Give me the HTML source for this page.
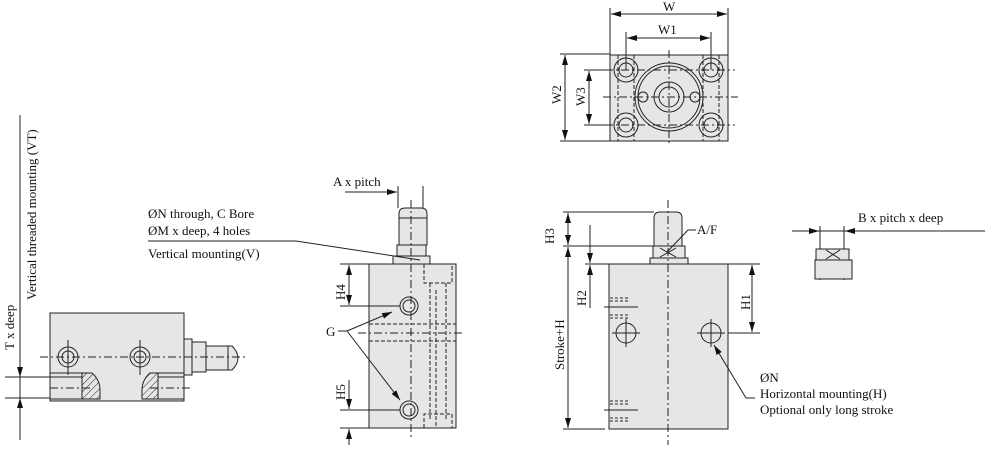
<!DOCTYPE html>
<html><head><meta charset="utf-8"><style>
html,body{margin:0;padding:0;background:#fff}
svg{display:block}
text{font-family:"Liberation Serif",serif;font-size:13px;fill:#111}
</style></head><body>
<svg width="990" height="452" viewBox="0 0 990 452" xmlns="http://www.w3.org/2000/svg">
<defs>
<marker id="a" viewBox="0 0 10 6" refX="10" refY="3" markerWidth="10" markerHeight="6" orient="auto-start-reverse" markerUnits="userSpaceOnUse"><path d="M0,0L10,3L0,6z" fill="#111"/></marker>
<pattern id="h" width="5" height="5" patternUnits="userSpaceOnUse" patternTransform="rotate(45)"><line x1="0" y1="0" x2="0" y2="5" stroke="#222" stroke-width="1"/></pattern>
</defs>
<g stroke="#222" stroke-width="1" fill="none">
<!-- TOP VIEW -->
<rect x="610" y="55" width="118" height="86" fill="#e6e6e6"/>
<line x1="610" y1="8" x2="610" y2="55"/><line x1="728" y1="8" x2="728" y2="55"/>
<line x1="611" y1="14" x2="727" y2="14" marker-start="url(#a)" marker-end="url(#a)"/>
<line x1="626" y1="32" x2="626" y2="70"/><line x1="711" y1="32" x2="711" y2="70"/>
<line x1="627" y1="38" x2="710" y2="38" marker-start="url(#a)" marker-end="url(#a)"/>
<line x1="560" y1="54" x2="610" y2="54"/><line x1="560" y1="141" x2="610" y2="141"/>
<line x1="565" y1="55" x2="565" y2="140" marker-start="url(#a)" marker-end="url(#a)"/>
<line x1="584" y1="70" x2="610" y2="70"/><line x1="584" y1="125" x2="610" y2="125"/>
<line x1="589" y1="71" x2="589" y2="124" marker-start="url(#a)" marker-end="url(#a)"/>
<g>
<circle cx="626" cy="70" r="12"/><circle cx="626" cy="70" r="7"/>
<circle cx="711" cy="70" r="12"/><circle cx="711" cy="70" r="7"/>
<circle cx="626" cy="125" r="12"/><circle cx="626" cy="125" r="7"/>
<circle cx="711" cy="125" r="12"/><circle cx="711" cy="125" r="7"/>
<circle cx="669" cy="97" r="34"/><circle cx="669" cy="97" r="31"/>
<circle cx="669" cy="97" r="15"/><circle cx="669" cy="97" r="10"/>
<circle cx="643" cy="97" r="5"/><circle cx="695" cy="97" r="5"/>
</g>
<g stroke-dasharray="8,3,2,3">
<line x1="603" y1="97" x2="738" y2="97"/><line x1="669" y1="50" x2="669" y2="145"/>
<line x1="605" y1="70" x2="735" y2="70"/><line x1="605" y1="125" x2="735" y2="125"/>
</g>
<g stroke-dasharray="4,2">
<line x1="618" y1="55" x2="618" y2="141"/><line x1="634" y1="55" x2="634" y2="141"/>
<line x1="703" y1="55" x2="703" y2="141"/><line x1="719" y1="55" x2="719" y2="141"/>
</g>
<!-- LEFT VIEW -->
<rect x="50" y="313" width="134" height="88" fill="#e6e6e6"/>
<rect x="184" y="339" width="8" height="36" fill="#e6e6e6"/>
<rect x="192" y="342" width="14" height="30" fill="#e6e6e6"/>
<path d="M206,346H232Q238,352 238,358Q238,364 232,370H206Z" fill="#e6e6e6"/>
<line x1="228" y1="346" x2="228" y2="370"/>
<circle cx="68" cy="357" r="10"/><circle cx="68" cy="357" r="6"/>
<circle cx="140" cy="357" r="10"/><circle cx="140" cy="357" r="6"/>
<line x1="40" y1="357" x2="245" y2="357" stroke-dasharray="8,3,2,3"/>
<line x1="68" y1="340" x2="68" y2="375"/><line x1="140" y1="340" x2="140" y2="375"/>
<path d="M82,373H92Q100,380 100,390V399H82Z" fill="url(#h)"/>
<path d="M158,373H150Q142,380 142,390V399H158Z" fill="url(#h)"/>
<rect x="50" y="377" width="32" height="22" fill="#e6e6e6"/>
<rect x="158" y="377" width="26" height="22" fill="#e6e6e6"/>
<line x1="50" y1="373" x2="92" y2="373"/><line x1="150" y1="373" x2="184" y2="373"/>
<line x1="50" y1="388" x2="90" y2="388" stroke-dasharray="8,3,2,3"/>
<line x1="150" y1="388" x2="192" y2="388" stroke-dasharray="8,3,2,3"/>
<line x1="20" y1="115" x2="20" y2="440"/>
<line x1="5" y1="377" x2="50" y2="377"/><line x1="5" y1="398" x2="50" y2="398"/>
<line x1="20" y1="362" x2="20" y2="377" marker-end="url(#a)"/>
<line x1="20" y1="413" x2="20" y2="398" marker-end="url(#a)"/>
<!-- MIDDLE VIEW -->
<rect x="369" y="264" width="87" height="164" fill="#e6e6e6"/>
<rect x="393" y="256" width="37" height="8" fill="#e6e6e6"/>
<rect x="397" y="245" width="29" height="11" fill="#e6e6e6"/>
<path d="M399,245V214Q399,208 405,208H421Q427,208 427,214V245Z" fill="#e6e6e6"/>
<line x1="399" y1="218" x2="427" y2="218"/>
<line x1="398" y1="186" x2="398" y2="208"/><line x1="423" y1="186" x2="423" y2="208"/>
<line x1="345" y1="192" x2="397" y2="192" marker-end="url(#a)"/>
<circle cx="409" cy="306" r="9"/><circle cx="409" cy="306" r="6"/>
<circle cx="409" cy="410" r="9"/><circle cx="409" cy="410" r="6"/>
<line x1="411" y1="200" x2="411" y2="440" stroke-dasharray="8,3,2,3"/>
<line x1="358" y1="333" x2="465" y2="333" stroke-dasharray="8,3,2,3"/>
<g stroke-dasharray="4,2">
<path d="M424,264V283H452V264"/>
<line x1="430" y1="283" x2="430" y2="420"/><line x1="446" y1="283" x2="446" y2="420"/>
<line x1="436" y1="290" x2="436" y2="428"/>
<line x1="369" y1="324" x2="456" y2="324"/><line x1="369" y1="341" x2="456" y2="341"/>
<path d="M424,428V414H452V428"/>
</g>
<line x1="340" y1="264" x2="369" y2="264"/><line x1="340" y1="306" x2="400" y2="306"/>
<line x1="349" y1="265" x2="349" y2="305" marker-start="url(#a)" marker-end="url(#a)"/>
<line x1="340" y1="410" x2="400" y2="410"/><line x1="340" y1="428" x2="369" y2="428"/>
<line x1="349" y1="380" x2="349" y2="409" marker-end="url(#a)"/>
<line x1="349" y1="445" x2="349" y2="429" marker-end="url(#a)"/>
<line x1="338" y1="331" x2="347" y2="331"/>
<line x1="347" y1="331" x2="392" y2="312" marker-end="url(#a)"/>
<line x1="347" y1="331" x2="400" y2="400" marker-end="url(#a)"/>
<line x1="148" y1="241" x2="296" y2="241"/>
<line x1="296" y1="241" x2="420" y2="260"/>
<!-- RIGHT VIEW -->
<rect x="609" y="264" width="119" height="165" fill="#e6e6e6"/>
<rect x="650" y="258" width="38" height="6" fill="#e6e6e6"/>
<rect x="653" y="246" width="32" height="12" fill="#e6e6e6"/>
<path d="M654,246V218Q654,212 660,212H676Q682,212 682,218V246Z" fill="#e6e6e6"/>
<path d="M660,248L676,257M660,257L676,248"/>
<line x1="668" y1="200" x2="668" y2="445" stroke-dasharray="8,3,2,3"/>
<circle cx="626" cy="333" r="10"/><path d="M612,333H640M626,319V347"/>
<circle cx="711" cy="333" r="10"/><path d="M697,333H725M711,319V347"/>
<line x1="563" y1="212" x2="654" y2="212"/><line x1="563" y1="246" x2="653" y2="246"/>
<line x1="568" y1="213" x2="568" y2="245" marker-start="url(#a)" marker-end="url(#a)"/>
<line x1="585" y1="264" x2="609" y2="264"/>
<line x1="590" y1="225" x2="590" y2="263" marker-end="url(#a)"/>
<line x1="590" y1="265" x2="590" y2="308" marker-start="url(#a)"/>
<line x1="568" y1="247" x2="568" y2="428" marker-start="url(#a)" marker-end="url(#a)"/>
<line x1="563" y1="429" x2="605" y2="429"/>
<line x1="728" y1="264" x2="760" y2="264"/><line x1="728" y1="333" x2="760" y2="333"/>
<line x1="752" y1="265" x2="752" y2="332" marker-start="url(#a)" marker-end="url(#a)"/>
<line x1="604" y1="307" x2="638" y2="307"/><line x1="604" y1="410" x2="638" y2="410"/>
<g stroke-dasharray="3,2"><path d="M610,298H630M610,301H630M610,315H630M610,318H630M610,401H630M610,404H630M610,418H630M610,421H630"/></g>
<line x1="755" y1="398" x2="746" y2="398"/>
<line x1="746" y1="398" x2="714" y2="345" marker-end="url(#a)"/>
<line x1="667" y1="252" x2="688" y2="230"/><line x1="688" y1="230" x2="696" y2="230"/>
<!-- SMALL PART -->
<line x1="792" y1="231" x2="985" y2="231"/>
<line x1="820" y1="226" x2="820" y2="280"/><line x1="844" y1="226" x2="844" y2="280"/>
<rect x="816" y="249" width="33" height="11" fill="#e6e6e6"/>
<rect x="815" y="260" width="37" height="19" fill="#e6e6e6"/>
<path d="M826,250L840,259M826,259L840,250"/>
<line x1="800" y1="231" x2="819" y2="231" marker-end="url(#a)"/>
<line x1="864" y1="231" x2="845" y2="231" marker-end="url(#a)"/>
</g>
<text x="663" y="11">W</text>
<text x="658" y="34">W1</text>
<text transform="translate(561,104) rotate(-90)">W2</text>
<text transform="translate(585,106) rotate(-90)">W3</text>
<text transform="translate(14,350) rotate(-90)">T x deep</text>
<text transform="translate(36,300) rotate(-90)">Vertical threaded mounting (VT)</text>
<text x="333" y="186">A x pitch</text>
<text x="148" y="218">ØN through, C Bore</text>
<text x="148" y="235">ØM x deep, 4 holes</text>
<text x="148" y="258">Vertical mounting(V)</text>
<text transform="translate(345,300) rotate(-90)">H4</text>
<text transform="translate(345,400) rotate(-90)">H5</text>
<text x="326" y="336">G</text>
<text transform="translate(554,244) rotate(-90)">H3</text>
<text transform="translate(586,306) rotate(-90)">H2</text>
<text transform="translate(564,370) rotate(-90)">Stroke+H</text>
<text transform="translate(750,310) rotate(-90)">H1</text>
<text x="697" y="234">A/F</text>
<text x="760" y="382">ØN</text>
<text x="760" y="398">Horizontal mounting(H)</text>
<text x="760" y="414">Optional only long stroke</text>
<text x="858" y="222">B x pitch x deep</text>
</svg>
</body></html>
